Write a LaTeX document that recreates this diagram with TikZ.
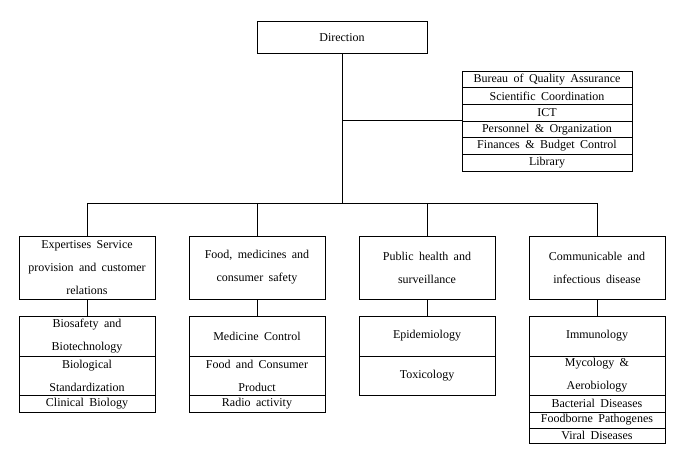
\documentclass[tikz,border=0pt]{standalone}
\usepackage{fontspec}
\setmainfont{Liberation Serif}
\newcommand{\orgfont}{\fontsize{12}{23}\selectfont\spaceskip 5.4pt plus 1pt\relax}
\begin{document}
\begin{tikzpicture}[x=1pt,y=-1pt,
  box/.style={draw, line width=0.9pt, inner sep=0pt, align=center, font=\orgfont},
  unitbox/.style={box, minimum width=136, minimum height=63},
  conn/.style={line width=0.9pt}]
\useasboundingbox (0,0) rectangle (686,456);
% Direction
\node[box, minimum width=170, minimum height=32] (dir) at (342,37.5) {Direction};
% Staff services
\foreach \t [count=\i] in {Bureau of Quality Assurance, Scientific Coordination, ICT,
  Personnel \& Organization, Finances \& Budget Control, Library}{
  \node[box, minimum width=170, minimum height=16.67] (s\i) at (547,{71+8.33+16.67*(\i-1)}) {\t};
}
% Departments
\node[unitbox] (l1) at (87,267.5) {Expertises Service\\provision and customer\\relations};
\node[unitbox] (l2) at (257,267.5) {Food, medicines and\\consumer safety};
\node[unitbox] (l3) at (427,267.5) {Public health and\\surveillance};
\node[unitbox] (l4) at (597,267.5) {Communicable and\\infectious disease};
% Column 1
\node[box, minimum width=136, minimum height=40] (a1) at (87,336) {Biosafety and\\Biotechnology};
\node[box, minimum width=136, minimum height=39] (a2) at (87,375.5) {Biological\\Standardization};
\node[box, minimum width=136, minimum height=17] (a3) at (87,403.5) {Clinical Biology};
% Column 2
\node[box, minimum width=136, minimum height=40] (b1) at (257,336) {Medicine Control};
\node[box, minimum width=136, minimum height=39] (b2) at (257,375.5) {Food and Consumer\\Product};
\node[box, minimum width=136, minimum height=17] (b3) at (257,403.5) {Radio activity};
% Column 3
\node[box, minimum width=136, minimum height=40] (c1) at (427,336) {Epidemiology};
\node[box, minimum width=136, minimum height=39] (c2) at (427,375.5) {Toxicology};
% Column 4
\node[box, minimum width=136, minimum height=40] (d1) at (597,336) {Immunology};
\node[box, minimum width=136, minimum height=39] (d2) at (597,375.5) {Mycology \&\\Aerobiology};
\node[box, minimum width=136, minimum height=17] (d3) at (597,403.5) {Bacterial Diseases};
\node[box, minimum width=136, minimum height=16] (d4) at (597,420) {Foodborne Pathogenes};
\node[box, minimum width=136, minimum height=15] (d5) at (597,435.5) {Viral Diseases};
% Connectors
\coordinate (busc) at (342,203);
\draw[conn] (dir.south) -- (busc);
\draw[conn] (dir.south |- s4.north west) -- (s4.north west);
\draw[conn] (l1.north) -- (l1.north |- busc) -| (l4.north);
\draw[conn] (l2.north) -- (l2.north |- busc);
\draw[conn] (l3.north) -- (l3.north |- busc);
\draw[conn] (l1.south) -- (a1.north);
\draw[conn] (l2.south) -- (b1.north);
\draw[conn] (l3.south) -- (c1.north);
\draw[conn] (l4.south) -- (d1.north);
\end{tikzpicture}
\end{document}
